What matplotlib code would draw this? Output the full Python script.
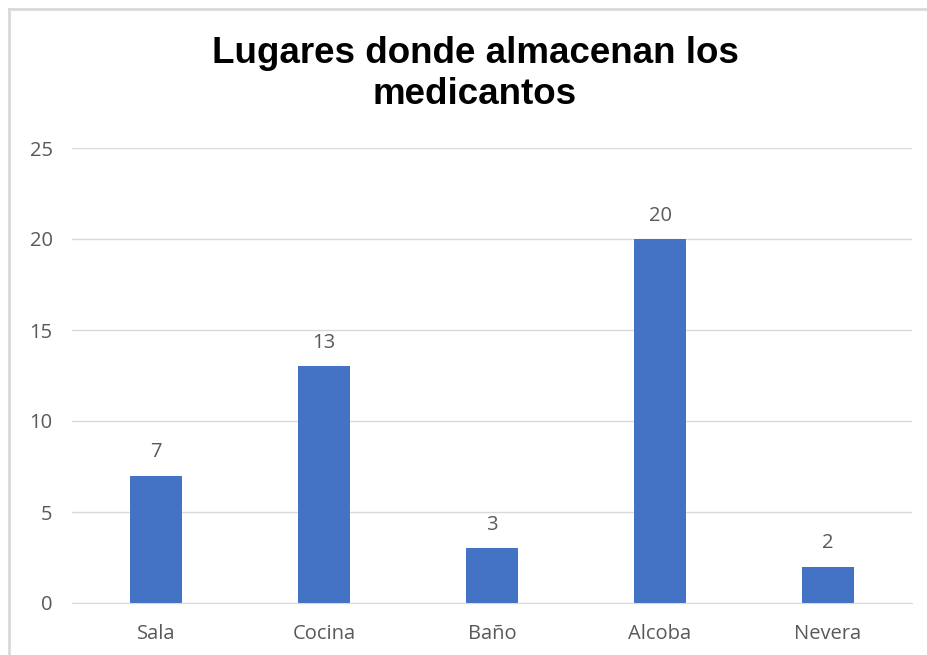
import matplotlib
matplotlib.use("Agg")
import matplotlib.pyplot as plt
from matplotlib.lines import Line2D
import numpy as np

# === Data ===
lugares = ["Sala", "Cocina", "Baño", "Alcoba", "Nevera"]
cantidades = [7, 13, 3, 20, 2]
y_ticks = [0, 5, 10, 15, 20, 25]

BAR_COLOR = "#4472c4"
GRID_COLOR = "#d9d9d9"
TEXT_COLOR = "#595959"

W, H = 927, 655
fig = plt.figure(figsize=(W / 100, H / 100), dpi=100)
ax = fig.add_axes([72 / W, 1 - 603 / H, (912 - 72) / W, (603 - 148) / H])

x = np.arange(len(lugares))
ax.bar(x, cantidades, width=0.31, color=BAR_COLOR, zorder=3)
for xi, v in zip(x, cantidades):
    ax.text(xi, v + 1.0, str(v), ha="center", va="baseline",
            fontsize=14.5, color=TEXT_COLOR, family="Open Sans")

ax.set_xlim(-0.5, len(lugares) - 0.5)
ax.set_ylim(0, 25)
ax.set_yticks(y_ticks)
ax.set_xticks(x)
ax.set_xticklabels(lugares)
ax.tick_params(length=0, labelsize=14.5, labelcolor=TEXT_COLOR, pad=15)
ax.tick_params(axis="y", pad=14)
for lab in ax.get_xticklabels() + ax.get_yticklabels():
    lab.set_family("Open Sans")
ax.grid(axis="y", color=GRID_COLOR, linewidth=1, zorder=0)
for s in ["top", "right", "left"]:
    ax.spines[s].set_visible(False)
ax.spines["bottom"].set_color(GRID_COLOR)

fig.text(475 / W, 1 - 74 / H, "Lugares donde almacenan los\nmedicantos",
         ha="center", va="center", fontsize=26.5, fontweight="bold",
         family="Liberation Sans", linespacing=1.22)

# chart frame (top and left edges visible in the crop)
fig.add_artist(Line2D([9 / W, 1], [1 - 9 / H, 1 - 9 / H], color=GRID_COLOR,
                      linewidth=2, transform=fig.transFigure))
fig.add_artist(Line2D([9 / W, 9 / W], [0, 1 - 9 / H], color=GRID_COLOR,
                      linewidth=2, transform=fig.transFigure))

fig.savefig("out.png", dpi=100)
